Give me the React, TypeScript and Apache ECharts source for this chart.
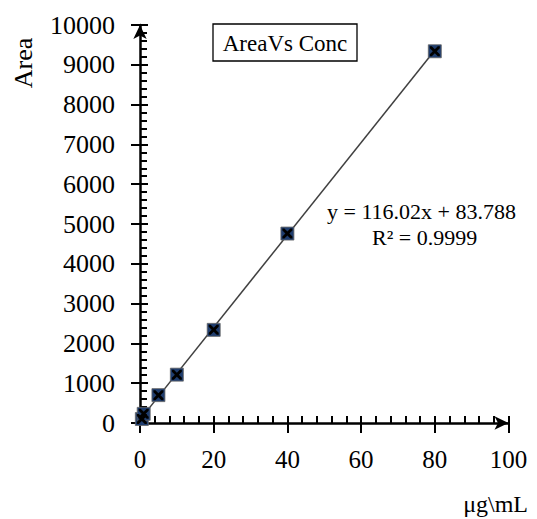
import React, { useEffect, useRef } from "react";
import * as echarts from "echarts";

const conc = [0.5, 1, 5, 10, 20, 40, 80];
const area = [100, 230, 700, 1215, 2340, 4760, 9340];
const trendX = [0, 80];
const trendY = [84, 9366];
const xTicks = [0, 20, 40, 60, 80, 100];
const yTicks = [0, 1000, 2000, 3000, 4000, 5000, 6000, 7000, 8000, 9000, 10000];
const titleText = "AreaVs Conc";
const eqText = "y = 116.02x + 83.788";
const r2Text = "R² = 0.9999";
const yName = "Area";
const xName = "μg\\mL";

const FONT = "'Liberation Serif', 'Times New Roman', serif";
const X_SHAPE =
  "path://M0,0 L2,0 L5,3 L8,0 L10,0 L10,2 L7,5 L10,8 L10,10 L8,10 L5,7 L2,10 L0,10 L0,8 L3,5 L0,2 Z";

export default function App() {
  const ref = useRef<HTMLDivElement>(null);
  useEffect(() => {
    if (!ref.current) return;
    const chart = echarts.init(ref.current, undefined, { renderer: "svg" });
    const pts = conc.map((c, i) => [c, area[i]]);
    const xMin = xTicks[0];
    const xMax = xTicks[xTicks.length - 1];
    const xInt = xTicks[1] - xTicks[0];
    const yMin = yTicks[0];
    const yMax = yTicks[yTicks.length - 1];
    const yInt = yTicks[1] - yTicks[0];
    const axisLineStyle = { color: "#000", width: 2.5 };
    const fmt = (v: number) => String(v);
    chart.setOption({
      animation: false,
      backgroundColor: "#fff",
      grid: { left: 140, right: 28.5, top: 25, bottom: 96, containLabel: false },
      xAxis: [
        {
          type: "value",
          min: xMin,
          max: xMax,
          interval: xInt,
          position: "bottom",
          axisLine: { show: true, lineStyle: axisLineStyle, symbol: ["none", "arrow"], symbolSize: [10, 14] },
          axisTick: { show: true, inside: false, length: 10, lineStyle: { color: "#000", width: 2 } },
          axisLabel: { fontFamily: FONT, fontSize: 25, color: "#000", margin: 24, formatter: fmt },
          splitLine: { show: false },
        },
        {
          type: "value",
          min: xMin,
          max: xMax,
          interval: xInt,
          position: "bottom",
          axisLine: { show: false },
          axisTick: { show: true, inside: true, length: 7, lineStyle: { color: "#000", width: 2 } },
          minorTick: { show: true, splitNumber: 5, length: 7, lineStyle: { color: "#000", width: 2 } },
          axisLabel: { show: false },
          splitLine: { show: false },
        },
      ],
      yAxis: [
        {
          type: "value",
          min: yMin,
          max: yMax,
          interval: yInt,
          position: "left",
          axisLine: { show: true, lineStyle: axisLineStyle, symbol: ["none", "arrow"], symbolSize: [10, 14] },
          axisTick: { show: true, inside: false, length: 9, lineStyle: { color: "#000", width: 2 } },
          axisLabel: { fontFamily: FONT, fontSize: 26, color: "#000", margin: 25, formatter: fmt },
          splitLine: { show: false },
        },
        {
          type: "value",
          min: yMin,
          max: yMax,
          interval: yInt,
          position: "left",
          axisLine: { show: false },
          axisTick: { show: true, inside: true, length: 8, lineStyle: { color: "#000", width: 2 } },
          minorTick: { show: true, splitNumber: 5, length: 7, lineStyle: { color: "#000", width: 2 } },
          axisLabel: { show: false },
          splitLine: { show: false },
        },
      ],
      series: [
        {
          type: "line",
          data: trendX.map((x, i) => [x, trendY[i]]),
          symbol: "none",
          lineStyle: { color: "#404040", width: 1.5 },
          z: 2,
        },
        {
          type: "scatter",
          data: pts,
          symbol: "rect",
          symbolSize: 13,
          itemStyle: { color: "#1f3d6e", borderColor: "#666", borderWidth: 0.8, opacity: 1 },
          z: 3,
        },
        {
          type: "scatter",
          data: pts,
          symbol: X_SHAPE,
          symbolSize: 10,
          itemStyle: { color: "#000", opacity: 1 },
          z: 4,
        },
      ],
      graphic: [
        {
          type: "rect",
          shape: { x: 213, y: 24, width: 144, height: 37 },
          style: { fill: "#fff", stroke: "#000", lineWidth: 1.3 },
          z: 10,
        },
        {
          type: "text",
          x: 285,
          y: 43,
          style: { text: titleText, font: `23px ${FONT}`, fill: "#000", align: "center", verticalAlign: "middle" },
          z: 11,
        },
        {
          type: "text",
          x: 327,
          y: 211,
          style: { text: eqText, font: `22px ${FONT}`, fill: "#000", align: "left", verticalAlign: "middle" },
          z: 11,
        },
        {
          type: "text",
          x: 372,
          y: 237,
          style: { text: r2Text, font: `22px ${FONT}`, fill: "#000", align: "left", verticalAlign: "middle" },
          z: 11,
        },
        {
          type: "text",
          x: 23,
          y: 63,
          rotation: Math.PI / 2,
          style: { text: yName, font: `26px ${FONT}`, fill: "#000", align: "center", verticalAlign: "middle" },
          z: 11,
        },
        {
          type: "text",
          x: 528,
          y: 504,
          style: { text: xName, font: `24px ${FONT}`, fill: "#000", align: "right", verticalAlign: "middle" },
          z: 11,
        },
      ],
    });
    return () => chart.dispose();
  }, []);
  return <div ref={ref} style={{ position: "fixed", left: 0, top: 0, width: 537, height: 519 }} />;
}
